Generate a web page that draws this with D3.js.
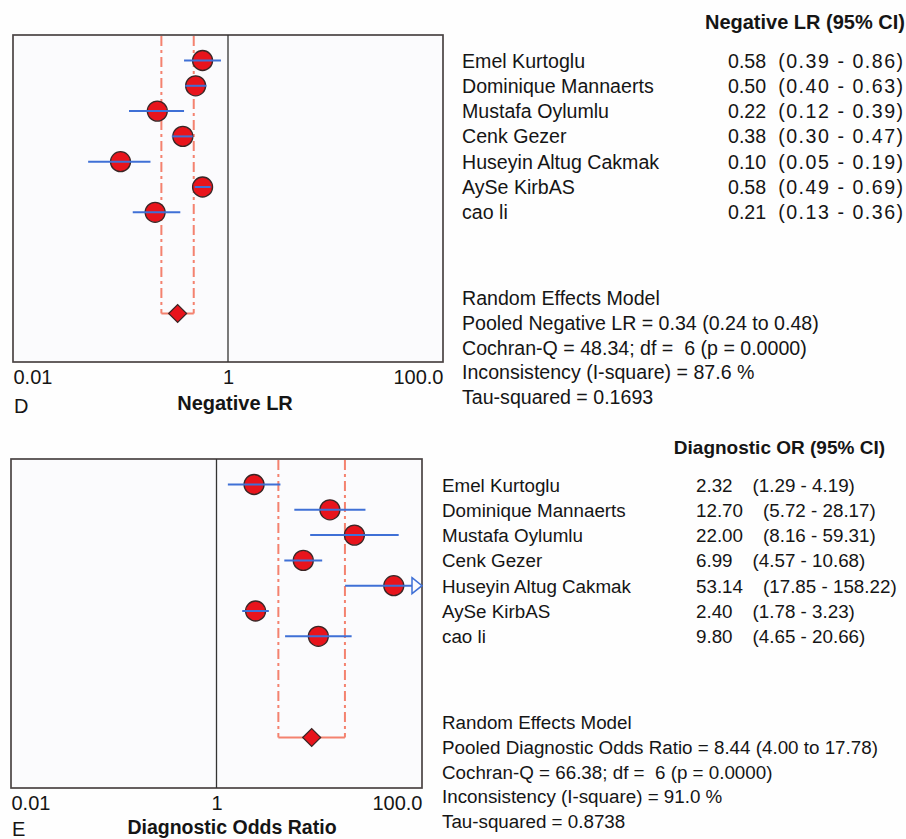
<!DOCTYPE html>
<html lang="en">
  <head>
    <meta charset="UTF-8" />
    <title>Forest plots - Negative LR and Diagnostic OR</title>
    <script src="https://cdn.jsdelivr.net/npm/d3@7"></script>
    <style>
      body { margin: 0; background: #fefefe; }
      text { font-family: "Liberation Sans", Arial, sans-serif; fill: #151515; }
    </style>
  </head>
  <body>
    <svg id="chart" width="906" height="839"></svg>

    <script>
      // study names (same for both panels)
      const studies = [
        "Emel Kurtoglu",
        "Dominique Mannaerts",
        "Mustafa Oylumlu",
        "Cenk Gezer",
        "Huseyin Altug Cakmak",
        "AySe KirbAS",
        "cao li"
      ];

      // Negative LR
      const nlrValue = [0.58, 0.50, 0.22, 0.38, 0.10, 0.58, 0.21];
      const nlrLower = [0.39, 0.40, 0.12, 0.30, 0.05, 0.49, 0.13];
      const nlrUpper = [0.86, 0.63, 0.39, 0.47, 0.19, 0.69, 0.36];
      const nlrPooled = [0.34, 0.24, 0.48];
      const nlrStats = [
        "Random Effects Model",
        "Pooled Negative LR = 0.34 (0.24 to 0.48)",
        "Cochran-Q = 48.34; df =  6 (p = 0.0000)",
        "Inconsistency (I-square) = 87.6 %",
        "Tau-squared = 0.1693"
      ];

      // Diagnostic odds ratio
      const dorValue = [2.32, 12.70, 22.00, 6.99, 53.14, 2.40, 9.80];
      const dorLower = [1.29, 5.72, 8.16, 4.57, 17.85, 1.78, 4.65];
      const dorUpper = [4.19, 28.17, 59.31, 10.68, 158.22, 3.23, 20.66];
      const dorPooled = [8.44, 4.00, 17.78];
      const dorStats = [
        "Random Effects Model",
        "Pooled Diagnostic Odds Ratio = 8.44 (4.00 to 17.78)",
        "Cochran-Q = 66.38; df =  6 (p = 0.0000)",
        "Inconsistency (I-square) = 91.0 %",
        "Tau-squared = 0.8738"
      ];

      const tickValues = [0.01, 1, 100];
      const tickLabels = ["0.01", "1", "100.0"];

      const svg = d3.select("#chart");

      // panel layout
      const panels = [
        {
          letter: "D", title: "Negative LR", header: "Negative LR (95% CI)",
          vals: nlrValue, lo: nlrLower, hi: nlrUpper, pooled: nlrPooled, stats: nlrStats,
          left: 13, right: 443, top: 35, bottom: 362,
          headerX: 905, headerY: 29, headerSize: 20, textSize: 19.6,
          textX: 462, valX: 728, ciGap: 12, ciWidth: 125,
          statsY: 305, titleX: 235, titleSize: 20, titleY: 410, letterY: 413
        },
        {
          letter: "E", title: "Diagnostic Odds Ratio", header: "Diagnostic OR (95% CI)",
          vals: dorValue, lo: dorLower, hi: dorUpper, pooled: dorPooled, stats: dorStats,
          left: 11, right: 422, top: 459, bottom: 788,
          headerX: 885, headerY: 454, headerSize: 19, textSize: 18.8,
          textX: 442, valX: 696, ciGap: 20, ciWidth: null,
          statsY: 729, titleX: 232, titleSize: 19.5, titleY: 834, letterY: 836
        }
      ];

      const fmt = d3.format(".2f");
      const pink = "#f4826f";
      const blue = "#3f70d6";

      panels.forEach(function (p) {
        let x = d3.scaleLog().domain([0.01, 100]).range([p.left, p.right]);
        let rowY = d3.scaleLinear().domain([0, 1]).range([p.top + 25.5, p.top + 50.8]);
        let poolY = p.top + 278.5;
        let g = svg.append("g");

        // plot frame
        g.append("rect")
          .attr("x", p.left).attr("y", p.top)
          .attr("width", p.right - p.left).attr("height", p.bottom - p.top)
          .attr("fill", "#fbfbfd").attr("stroke", "#4a4444").attr("stroke-width", 1.7);

        // line of no effect
        g.append("line")
          .attr("x1", x(1)).attr("x2", x(1))
          .attr("y1", p.top).attr("y2", p.bottom)
          .attr("stroke", "#333").attr("stroke-width", 1.3);

        // pooled CI dashed lines + bracket
        [p.pooled[1], p.pooled[2]].forEach(function (v) {
          g.append("line")
            .attr("x1", x(v)).attr("x2", x(v))
            .attr("y1", p.top + 1).attr("y2", poolY)
            .attr("stroke", pink).attr("stroke-width", 2)
            .attr("stroke-dasharray", "10,4,3,4");
        });
        g.append("line")
          .attr("x1", x(p.pooled[1])).attr("x2", x(p.pooled[2]))
          .attr("y1", poolY).attr("y2", poolY)
          .attr("stroke", pink).attr("stroke-width", 1.8);

        // study points
        p.vals.forEach(function (v, i) {
          let y = rowY(i);
          let lineEnd = p.hi[i] > 100 ? x(100) - 10 : x(p.hi[i]);
          g.append("circle")
            .attr("cx", x(v)).attr("cy", y).attr("r", 10)
            .attr("fill", "#e8141c").attr("stroke", "#3a2626").attr("stroke-width", 1.3);
          g.append("line")
            .attr("x1", x(p.lo[i])).attr("x2", lineEnd)
            .attr("y1", y).attr("y2", y)
            .attr("stroke", blue).attr("stroke-width", 2);
          if (p.hi[i] > 100) {
            // open arrow for CI beyond axis
            g.append("path")
              .attr("d", d3.line()([[x(100) - 10, y - 8], [x(100), y], [x(100) - 10, y + 8]]) + "Z")
              .attr("fill", "#fbfbfd").attr("stroke", blue).attr("stroke-width", 1.5);
          }
        });

        // pooled diamond
        let px = x(p.pooled[0]);
        g.append("path")
          .attr("d", d3.line()([[px - 9, poolY], [px, poolY - 9], [px + 9, poolY], [px, poolY + 9]]) + "Z")
          .attr("fill", "#e8141c").attr("stroke", "#3a2626").attr("stroke-width", 1.2);

        // x axis labels
        let axis = g.append("g")
          .attr("transform", "translate(0," + p.bottom + ")")
          .call(d3.axisBottom(x).tickValues(tickValues).tickSize(0).tickPadding(0)
            .tickFormat(function (d, i) { return tickLabels[i]; }));
        axis.select(".domain").remove();
        axis.selectAll("text")
          .attr("y", 22).attr("dy", 0)
          .style("font-family", "'Liberation Sans', Arial, sans-serif")
          .style("font-size", "20px").attr("fill", "#151515")
          .attr("text-anchor", function (d, i) { return i === 0 ? "start" : i === 2 ? "end" : "middle"; });

        g.append("text")
          .attr("x", p.titleX).attr("y", p.titleY)
          .attr("text-anchor", "middle")
          .style("font-size", p.titleSize + "px").style("font-weight", "bold")
          .text(p.title);
        g.append("text")
          .attr("x", p.left + 1).attr("y", p.letterY)
          .style("font-size", "20px")
          .text(p.letter);

        // right-hand table
        g.append("text")
          .attr("x", p.headerX).attr("y", p.headerY)
          .attr("text-anchor", "end")
          .style("font-size", p.headerSize + "px").style("font-weight", "bold")
          .text(p.header);

        studies.forEach(function (name, i) {
          let y = rowY(i) + 7;
          g.append("text")
            .attr("x", p.textX).attr("y", y)
            .style("font-size", p.textSize + "px")
            .text(name);
          let t = g.append("text")
            .attr("x", p.valX).attr("y", y)
            .style("font-size", p.textSize + "px");
          t.append("tspan").text(fmt(p.vals[i]));
          let ci = t.append("tspan").attr("dx", p.ciGap)
            .text("(" + fmt(p.lo[i]) + " - " + fmt(p.hi[i]) + ")");
          if (p.ciWidth) ci.attr("textLength", p.ciWidth).attr("lengthAdjust", "spacing");
        });

        p.stats.forEach(function (line, i) {
          g.append("text")
            .attr("x", p.textX).attr("y", p.statsY + i * 24.8)
            .style("font-size", p.textSize + "px")
            .style("white-space", "pre")
            .text(line);
        });
      });
    </script>
  </body>
</html>
